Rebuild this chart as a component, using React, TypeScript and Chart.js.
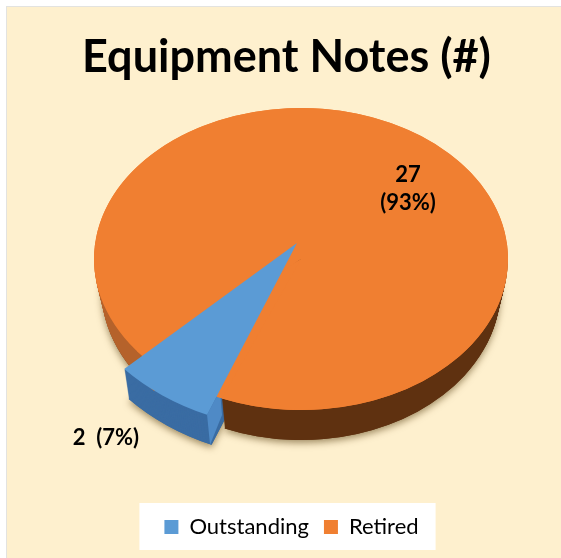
import React, { useEffect, useRef } from "react";
import { Chart, registerables } from "chart.js";

Chart.register(...registerables);

const categories = ["Outstanding", "Retired"];
const values = [2, 27];
const percents = [7, 93];
const sliceColors = ["#5B9BD5", "#F07F31"];
const chartTitle = "Equipment Notes (#)";

const FONT = "Lato, Carlito, sans-serif";
const PANEL = "#FEF0CE";
const DEPTH = 30;
const DISC = { cx: 301, cy: 259, rx: 207, ry: 151 };
const WEDGE = { cx: 297, cy: 243, rx: 235, ry: 186 };

const piePlugin = {
  id: "tiltedPie",
  beforeDraw(chart: any) {
    const { ctx, width, height, legend } = chart;
    ctx.save();
    ctx.fillStyle = "#FFFFFF";
    ctx.fillRect(0, 0, width, height);
    ctx.fillStyle = "#E3E3E0";
    ctx.fillRect(6, 6, width - 6, height - 6);
    ctx.fillStyle = PANEL;
    ctx.fillRect(7, 7, width - 7, height - 7);
    const boxes = legend.legendHitBoxes;
    const first = boxes[0];
    const last = boxes[boxes.length - 1];
    ctx.fillStyle = "#FFFFFF";
    ctx.fillRect(first.left - 25, 503, last.left + last.width - first.left + 42, 47);
    ctx.restore();
  },
  afterLayout(chart: any) {
    chart.legend.left += 5;
    chart.legend.right += 5;
    chart.legend.legendHitBoxes.forEach((b: any) => {
      b.left += 5;
    });
  },
  beforeDatasetsDraw(chart: any) {
    const { ctx } = chart;
    const [wedge, disc] = chart.getDatasetMeta(0).data as any[];
    const R = disc.outerRadius;

    const place = (el: any, g: any, dx: number, dy: number, turn = 0) => {
      ctx.translate(g.cx + dx, g.cy + dy);
      ctx.scale(g.rx / R, g.ry / R);
      ctx.rotate(turn);
      ctx.translate(-el.x, -el.y);
    };
    const paint = (el: any, g: any, color: any, dx: number, dy: number, turn = 0) => {
      const keep = el.options;
      const opts = Object.create(keep);
      opts.backgroundColor = color;
      el.options = opts;
      ctx.save();
      place(el, g, dx, dy, turn);
      el.draw(ctx);
      ctx.restore();
      el.options = keep;
    };
    // lower layers of the disc narrow slightly, as the far side of a tilted solid does
    const discAt = (d: number) => ({ ...DISC, rx: DISC.rx - d * 0.25 });

    // ground shadow
    ctx.save();
    ctx.shadowColor = "rgba(85,60,15,0.55)";
    ctx.shadowBlur = 7;
    ctx.shadowOffsetY = 3;
    paint(wedge, WEDGE, "#3A6CA3", DEPTH * 0.15, DEPTH);
    paint(disc, discAt(DEPTH), "#5F3110", 0, DEPTH);
    ctx.restore();

    // wedge outer wall
    for (let d = DEPTH; d > 0; d--) paint(wedge, WEDGE, "#3A6CA3", d * 0.15, d);

    // wedge cut face
    const edge = (f: number) => ({
      x: WEDGE.cx + WEDGE.rx * f * Math.cos(wedge.startAngle),
      y: WEDGE.cy + WEDGE.ry * f * Math.sin(wedge.startAngle),
    });
    const a = edge(1);
    const b = edge(0.856);
    ctx.save();
    ctx.fillStyle = "#4F8AC6";
    ctx.beginPath();
    ctx.moveTo(a.x, a.y);
    ctx.lineTo(b.x, b.y);
    ctx.lineTo(b.x + 2, b.y + 25);
    ctx.lineTo(a.x + 3, a.y + DEPTH);
    ctx.closePath();
    ctx.fill();
    ctx.restore();

    // disc wall: lighter on the far left, dark along the front
    const rim = ctx.createLinearGradient(disc.x - R, 0, disc.x + R, 0);
    rim.addColorStop(0, "#B5622B");
    rim.addColorStop(0.28, "#B5622B");
    rim.addColorStop(0.3, "#5F3110");
    rim.addColorStop(1, "#5F3110");
    for (let d = DEPTH; d > 0; d--) paint(disc, discAt(d), rim, 0, d);

    // top faces; the turned copy closes the notch around the pulled-out wedge's tip
    paint(disc, DISC, sliceColors[1], 0, 0, (30 * Math.PI) / 180);
    paint(disc, DISC, sliceColors[1], 0, 0);
    paint(wedge, WEDGE, sliceColors[0], 0, 0);
    return false;
  },
  afterDraw(chart: any) {
    const { ctx } = chart;
    ctx.save();
    ctx.fillStyle = "#000000";
    ctx.font = `bold 22px ${FONT}`;
    ctx.textAlign = "center";
    ctx.textBaseline = "middle";
    ctx.fillText(`${values[1]}`, 408, 175);
    ctx.fillText(`(${percents[1]}%)`, 408, 203);
    ctx.fillText(`${values[0]}  (${percents[0]}%)`, 106, 438);
    ctx.restore();
  },
};

export default function App() {
  const ref = useRef<HTMLCanvasElement>(null);
  useEffect(() => {
    const chart = new Chart(ref.current as HTMLCanvasElement, {
      type: "pie",
      data: {
        labels: categories,
        datasets: [{ data: values, backgroundColor: sliceColors, borderWidth: 0 }],
      },
      options: {
        responsive: false,
        animation: false,
        rotation: 202.5,
        layout: { padding: { left: 12, right: 0, top: 0, bottom: 10 } },
        plugins: {
          tooltip: { enabled: false },
          title: {
            display: true,
            text: chartTitle,
            color: "#000000",
            font: { family: FONT, size: 45, weight: "bold" },
            padding: { top: 30, bottom: 10 },
          },
          legend: {
            position: "bottom",
            labels: {
              color: "#000000",
              boxWidth: 14,
              boxHeight: 14,
              padding: 15,
              font: { family: FONT, size: 22 },
            },
          },
        },
      },
      plugins: [piePlugin],
    } as any);
    return () => chart.destroy();
  }, []);
  return (
    <canvas
      ref={ref}
      width={561}
      height={558}
      style={{ position: "fixed", left: 0, top: 0, width: 561, height: 558 }}
    />
  );
}
